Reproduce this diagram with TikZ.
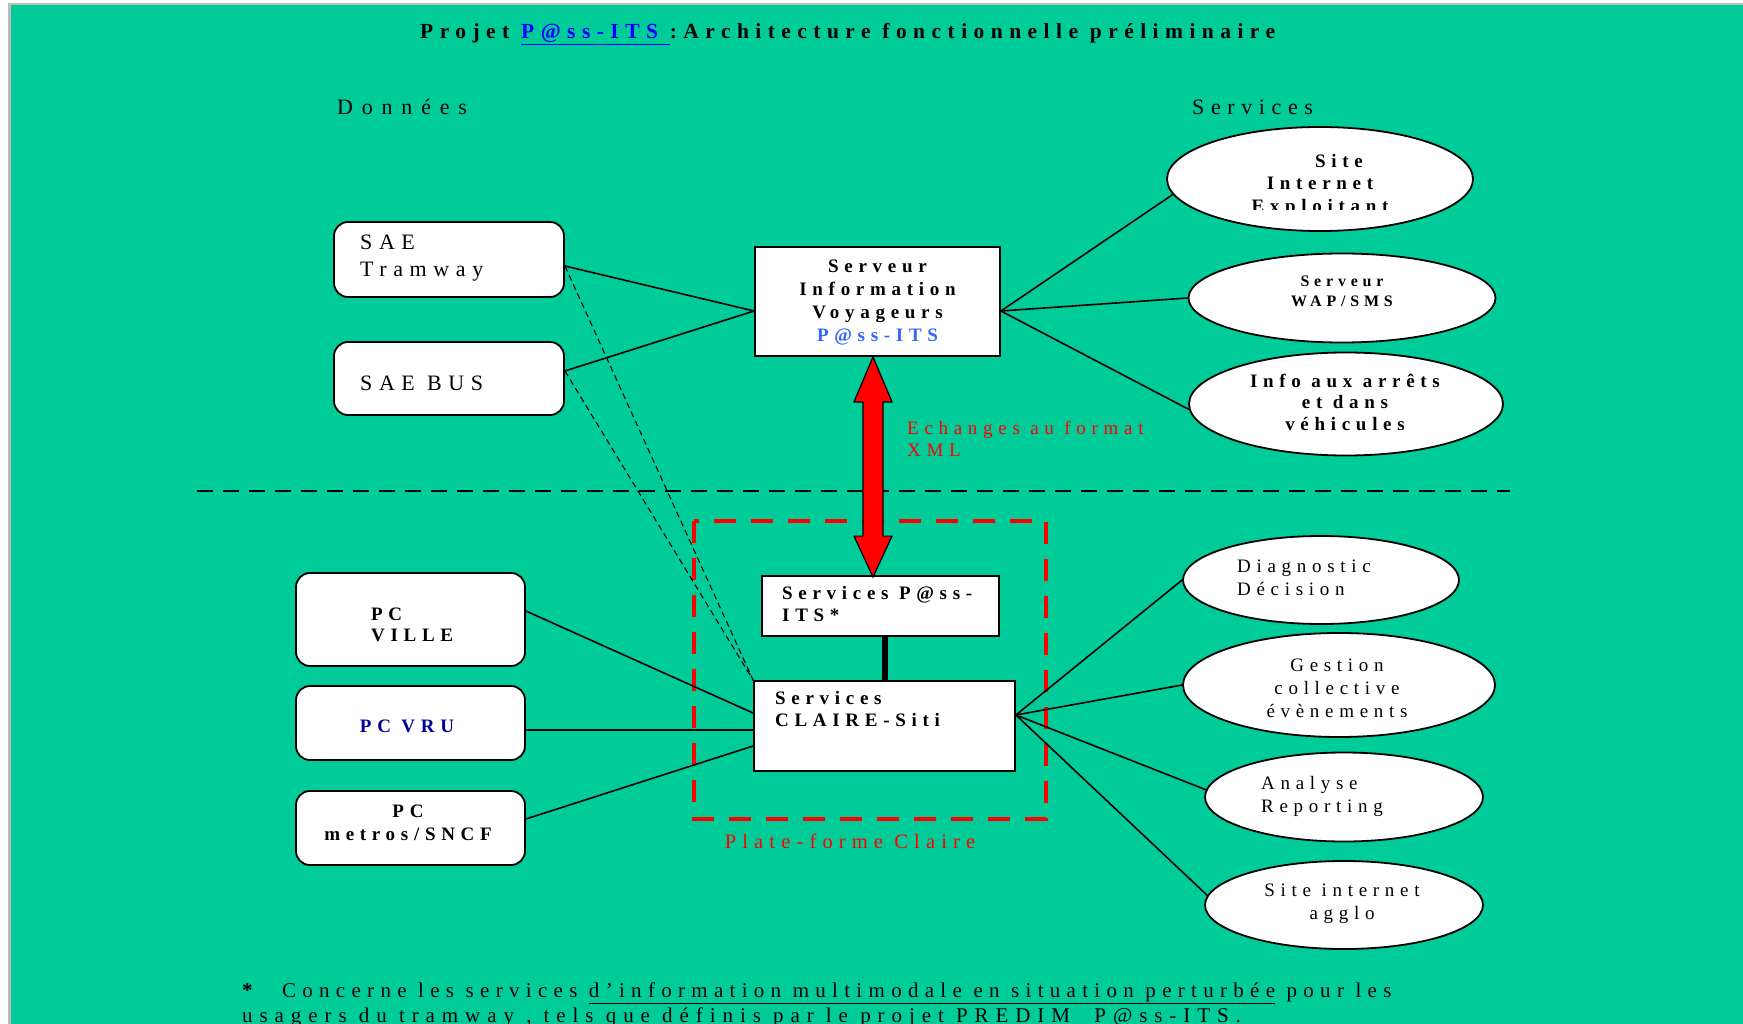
\documentclass[tikz,border=0pt]{standalone}
\usepackage{fontspec}
\setmainfont[LetterSpace=30]{Liberation Serif}
\usetikzlibrary{shapes.geometric,calc}
\definecolor{bgc}{HTML}{00CC99}
\definecolor{framec}{HTML}{BBBBBB}
\definecolor{lblue}{HTML}{3366FF}
\definecolor{navyc}{HTML}{000099}
\pgfdeclarelayer{back}
\pgfsetlayers{back,main}
\begin{document}
\begin{tikzpicture}[x=1pt,y=-1pt,
  box/.style={draw=black,line width=1.8pt,fill=white,inner sep=0pt},
  rbox/.style={box,rounded corners=14pt},
  ell/.style={draw=black,line width=1.8pt,fill=white,ellipse,inner sep=0pt},
  txt/.style={inner sep=0pt,font=\fontsize{19}{23}\selectfont},
  bigtxt/.style={inner sep=0pt,font=\fontsize{22}{26.5}\selectfont},
  btxt/.style={inner sep=0pt,font=\fontsize{19}{23}\selectfont\bfseries},
  link/.style={line width=1.6pt},
  dlink/.style={line width=1.1pt,dash pattern=on 6pt off 4pt},
]
\useasboundingbox (0,0) rectangle (1743,1024);

% boxes
\node[rbox,minimum width=230pt,minimum height=75pt] (tram) at (449,259.5) {};
\node[rbox,minimum width=230pt,minimum height=73pt] (bus) at (449,378.5) {};
\node[box,minimum width=245pt,minimum height=109pt] (siv) at (877.5,301.5) {};
\node[box,minimum width=237pt,minimum height=60pt] (pss) at (880.5,606) {};
\node[box,minimum width=261pt,minimum height=90pt] (claire) at (884.5,726) {};
\node[rbox,minimum width=229pt,minimum height=93pt] (pcv) at (410.5,619.5) {};
\node[rbox,minimum width=229pt,minimum height=74pt] (pcvru) at (410.5,723) {};
\node[rbox,minimum width=229pt,minimum height=74pt] (pcm) at (410.5,828) {};

% ellipses
\node[ell,minimum width=306pt,minimum height=104pt] (e1) at (1320,179) {};
\node[ell,minimum width=307pt,minimum height=89pt] (e2) at (1342,298) {};
\node[ell,minimum width=314pt,minimum height=103pt] (e3) at (1346,404) {};
\node[ell,minimum width=276pt,minimum height=88pt] (e4) at (1321,580) {};
\node[ell,minimum width=312pt,minimum height=104pt] (e5) at (1339,685) {};
\node[ell,minimum width=278pt,minimum height=89pt] (e6) at (1344,797) {};
\node[ell,minimum width=278pt,minimum height=88pt] (e7) at (1344,905) {};

\begin{pgfonlayer}{back}
  \fill[white] (0,0) rectangle (1743,1024);
  \fill[framec] (8,3) rectangle (1743,1024);
  \fill[bgc] (11,5) rectangle (1743,1024);
  % separator
  \draw[line width=2pt,dash pattern=on 16pt off 10pt] (197,491) -- (1510,491);
  % Claire platform
  \draw[red,line width=4.5pt,dash pattern=on 22pt off 15pt] (694,521) rectangle (1046,819);
  % connectors top
  \draw[link] ([yshift=-6.5pt]tram.east) -- ([yshift=-9.5pt]siv.west);
  \draw[link] ([yshift=7.5pt]bus.east) -- ([yshift=-9.5pt]siv.west);
  \draw[link] ([yshift=-9.5pt]siv.east) -- (e1.186);
  \draw[link] ([yshift=-9.5pt]siv.east) -- (e2.west);
  \draw[link] ([yshift=-9.5pt]siv.east) -- (e3.182);
  % dashed
  \draw[dlink] ([yshift=-6.5pt]tram.east) -- (claire.north west);
  \draw[dlink] ([yshift=7.5pt]bus.east) -- (claire.north west);
  % bottom left
  \draw[link] ([yshift=8.5pt]pcv.east) -- ([yshift=13pt]claire.west);
  \draw[link] ([yshift=-7pt]pcvru.east) -- ([yshift=-4pt]claire.west);
  \draw[link] ([yshift=9pt]pcm.east) -- ([yshift=-20pt]claire.west);
  % fan
  \draw[link] ([yshift=11pt]claire.east) -- (e4.west);
  \draw[link] ([yshift=11pt]claire.east) -- (e5.west);
  \draw[link] ([yshift=11pt]claire.east) -- (e6.177);
  \draw[link] ([yshift=11pt]claire.east) -- (e7.176);
  % thick link
  \draw[line width=6pt] (claire.north) -- (claire.north |- pss.south);
\end{pgfonlayer}

% red double arrow
\coordinate (atop) at ([xshift=-4.5pt]siv.south);
\coordinate (abot) at ([xshift=-7.5pt,yshift=-2pt]pss.north);
\draw[fill=red,line width=1.2pt,line join=miter]
  (atop) -- ($(atop)+(19,45)$) -- ($(atop)+(10,45)$) -- ($(abot)+(10,-41)$)
  -- ($(abot)+(19,-41)$) -- (abot) -- ($(abot)+(-19,-41)$) -- ($(abot)+(-10,-41)$)
  -- ($(atop)+(-10,45)$) -- ($(atop)+(-19,45)$) -- cycle;

% texts
\node[btxt,anchor=base west,font=\fontsize{21.5}{25}\selectfont\bfseries] (title) at (420,39)
  {Projet \textcolor{blue}{\underline{P@ss-ITS\ }}:Architecture fonctionnelle préliminaire};
\node[bigtxt,anchor=base west] (tdon) at (337,115) {\addfontfeatures{LetterSpace=40}Données};
\node[bigtxt,anchor=base west] (tserv) at (1192,115) {Services};

\node[bigtxt,anchor=west,align=left] (ttram) at (360,258) {SAE\\Tramway};
\node[bigtxt,anchor=base west] (tbus) at (360,390) {SAE BUS};
\node[btxt,align=center] (tsiv) at (877.5,303) {Serveur\\Information\\Voyageurs\\\textcolor{lblue}{P@ss-ITS}};

\begin{scope}
  \clip (1150,130) rectangle (1480,210);
  \node[btxt,align=center,font=\fontsize{19}{22.5}\selectfont\bfseries] (te1) at (1320,185) {\hspace*{38pt}Site\\Internet\\Exploitant};
\end{scope}
\node[btxt,align=center,font=\fontsize{16}{20}\selectfont\bfseries] (te2) at (1342,291) {Serveur\\WAP/SMS};
\node[btxt,align=center,font=\fontsize{19}{21.5}\selectfont\bfseries] (te3) at (1345,402) {Info aux arrêts\\et dans\\véhicules};

\node[btxt,anchor=west,align=left,font=\fontsize{19}{21.5}\selectfont\bfseries] (tpss) at (782,604) {Services P@ss-\\ITS*};
\node[btxt,anchor=west,align=left,font=\fontsize{19}{21.5}\selectfont\bfseries] (tclaire) at (775,709) {Services\\CLAIRE-Siti};
\node[txt,anchor=west,align=left,text=red,font=\fontsize{19}{21.5}\selectfont] (tech) at (907,439) {Echanges au format\\XML};
\node[txt,anchor=base,text=red,font=\fontsize{20.5}{24}\selectfont] (tplat) at (850,848) {Plate-forme Claire};

\node[btxt,anchor=west,align=left,font=\fontsize{19}{21.5}\selectfont\bfseries] (tpcv) at (371,625) {PC\\VILLE};
\node[btxt,text=navyc] (tpcvru) at (407,726) {PC VRU};
\node[btxt,align=center] (tpcm) at (408,823) {PC\\metros/SNCF};

\node[txt,anchor=west,align=left] (te4) at (1237,578) {Diagnostic\\Décision};
\node[txt,align=center] (te5) at (1337,688) {Gestion\\collective\\évènements};
\node[txt,anchor=west,align=left] (te6) at (1261,796) {Analyse\\Reporting};
\node[txt,align=center] (te7) at (1342,904) {Site internet\\agglo};

\node[txt,anchor=base west,font=\fontsize{21}{25}\selectfont] (fn1) at (242,997)
  {\textbf{*}\ \ Concerne les services \underline{d’information multimodale en situation perturbée} pour les};
\node[txt,anchor=base west,font=\fontsize{21}{25}\selectfont] (fn2) at (242,1022)
  {\addfontfeatures{LetterSpace=33}usagers du tramway , tels que définis par le projet PREDIM\ \ P@ss-ITS.};
\end{tikzpicture}
\end{document}
